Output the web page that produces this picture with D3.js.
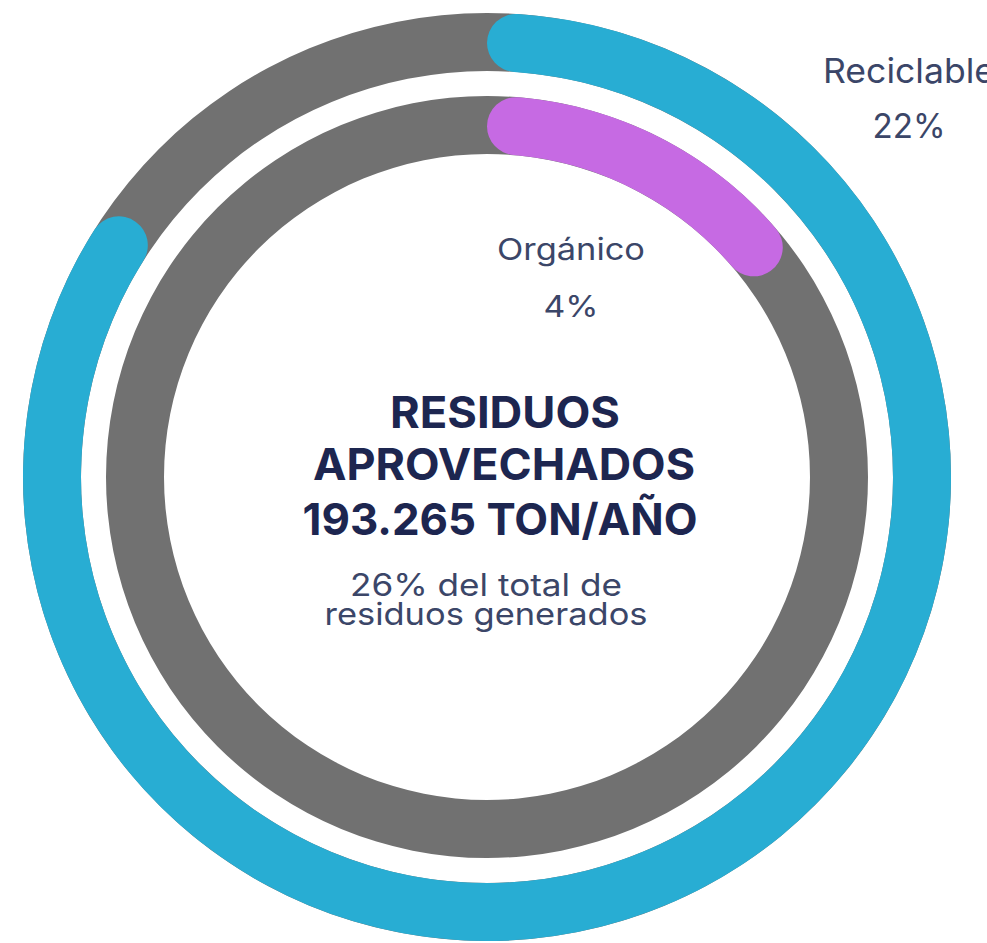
<!DOCTYPE html>
<html>
<head>
<meta charset="utf-8">
<script src="https://cdn.jsdelivr.net/npm/d3@7"></script>
<style>
  html, body { margin: 0; padding: 0; background: #ffffff; }
  svg { display: block; }
</style>
</head>
<body>
<div id="chart"></div>
<script>
// ---- data ----
const categories = ["Reciclable", "Orgánico"];
const percentLabels = ["22%", "4%"];
const arcShares = [0.85, 0.15];           // fraction of the ring filled (as drawn)
const ringColors = ["#28add3", "#c66ae3"];
const titleLines = ["RESIDUOS", "APROVECHADOS", "193.265 TON/AÑO"];
const subtitleLines = ["26% del total de", "residuos generados"];

// ---- layout ----
const W = 987, H = 943;
const cx = 487, cy = 477;
const rings = [
  { inner: 406, outer: 464 },
  { inner: 323, outer: 381 }
];
const trackColor = "#717171";

const svg = d3.select("#chart").append("svg")
  .attr("width", W).attr("height", H);

const angle = d3.scaleLinear().domain([0, 1]).range([0, 2 * Math.PI]);

const g = svg.append("g").attr("transform", `translate(${cx},${cy})`);

categories.forEach((c, i) => {
  const r = rings[i];
  const trackArc = d3.arc().innerRadius(r.inner).outerRadius(r.outer)
    .startAngle(angle(0)).endAngle(angle(1));
  g.append("path").attr("d", trackArc()).attr("fill", trackColor);
  const valArc = d3.arc().innerRadius(r.inner).outerRadius(r.outer)
    .cornerRadius((r.outer - r.inner) / 2)
    .startAngle(angle(0)).endAngle(angle(arcShares[i]));
  g.append("path").attr("d", valArc()).attr("fill", ringColors[i]);
});

// ---- category labels ----
const labelColor = "#3b4668";
const labelPos = [
  { x: 909, y1: 83, y2: 138, size: 34 },
  { x: 571, y1: 260, y2: 317, size: 30 }
];
const labelWidths = [[172, 73], [148, 55]];
categories.forEach((c, i) => {
  const p = labelPos[i];
  svg.append("text").attr("x", p.x).attr("y", p.y1)
    .attr("text-anchor", "middle")
    .attr("font-family", "Inter, 'Open Sans', sans-serif")
    .attr("font-size", p.size).attr("fill", labelColor)
    .attr("textLength", labelWidths[i][0]).attr("lengthAdjust", "spacingAndGlyphs")
    .text(c);
  svg.append("text").attr("x", p.x).attr("y", p.y2)
    .attr("text-anchor", "middle")
    .attr("font-family", "Inter, 'Open Sans', sans-serif")
    .attr("font-size", p.size).attr("fill", labelColor)
    .attr("textLength", labelWidths[i][1]).attr("lengthAdjust", "spacingAndGlyphs")
    .text(percentLabels[i]);
});

// ---- center title ----
const titleColor = "#1d2650";
const titleX = [505, 504, 500];
const titleY = [428, 480, 535];
const titleW = [230, 382, 395];
titleLines.forEach((t, i) => {
  svg.append("text").attr("x", titleX[i]).attr("y", titleY[i])
    .attr("text-anchor", "middle")
    .attr("font-family", "Inter, 'Liberation Sans', sans-serif")
    .attr("font-weight", 700).attr("font-size", 44)
    .attr("fill", titleColor)
    .attr("textLength", titleW[i]).attr("lengthAdjust", "spacingAndGlyphs")
    .text(t);
});

const subX = [486, 486];
const subY = [596, 625];
const subW = [272, 323];
subtitleLines.forEach((t, i) => {
  svg.append("text").attr("x", subX[i]).attr("y", subY[i])
    .attr("text-anchor", "middle")
    .attr("font-family", "Inter, 'Open Sans', sans-serif")
    .attr("font-size", 31).attr("fill", labelColor)
    .attr("textLength", subW[i]).attr("lengthAdjust", "spacingAndGlyphs")
    .text(t);
});
</script>
</body>
</html>
